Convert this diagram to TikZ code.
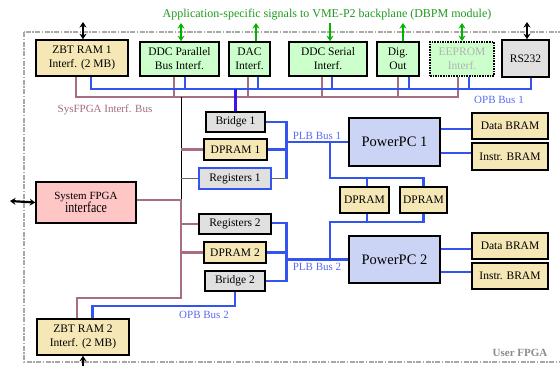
\documentclass[tikz,border=0pt]{standalone}
\usepackage{fontspec}
\setmainfont{Liberation Serif}
\usetikzlibrary{arrows.meta}
\definecolor{ylw}{HTML}{F6E8B6}
\definecolor{grn}{HTML}{CCFFCC}
\definecolor{gry}{HTML}{E0E0E0}
\definecolor{pnk}{HTML}{FFC6C6}
\definecolor{lav}{HTML}{CCD4F6}
\definecolor{busblue}{HTML}{3355EE}
\definecolor{maroon}{HTML}{A66E7E}
\definecolor{lblblue}{HTML}{5A6AF2}
\definecolor{lblmar}{HTML}{A26A7C}
\definecolor{grntxt}{HTML}{1E9A1E}
\definecolor{grnarr}{HTML}{00B400}
\definecolor{border}{HTML}{A8A8A8}
\newcommand{\fsz}[1]{\fontsize{#1}{#1}\selectfont}
\tikzset{
  box/.style={draw=black, line width=1.6pt, inner sep=0pt, align=center,
    font=\fsz{11.5}, execute at begin node=\setlength{\baselineskip}{14pt}},
  ybox/.style={box, fill=ylw},
  gbox/.style={box, fill=grn},
  graybox/.style={box, fill=gry},
  opb/.style={draw=busblue, line width=2.6pt},
  sys/.style={draw=maroon, line width=2.4pt},
  thinblk/.style={draw=black, line width=0.8pt},
  thingry/.style={draw=black!60, line width=1.2pt},
  barr/.style={draw=black, line width=2.2pt, {Stealth[length=5.5pt,width=7pt]}-{Stealth[length=5.5pt,width=7pt]}},
  garrd/.style={draw=grnarr, line width=2.2pt, {Stealth[length=5.5pt,width=7pt]}-{Stealth[length=5.5pt,width=7pt]}},
  garr/.style={draw=grnarr, line width=2.2pt, -{Stealth[length=5.5pt,width=7pt]}},
  lbl/.style={font=\fsz{11}, inner sep=0pt},
}
\begin{document}
\begin{tikzpicture}[x=1pt,y=-1pt]
\useasboundingbox (0,0) rectangle (560,365);
% outer border
\draw[border, line width=1.8pt, dash pattern=on 5pt off 1.5pt on 1.5pt off 1.5pt] (24,32) rectangle (600,362);
% title
\node[lbl, text=grntxt, font=\fsz{12}] (title) at (327,15) {Application-specific signals to VME-P2 backplane (DBPM module)};
% top row boxes
\node[ybox, minimum width=92pt, minimum height=36pt] (zbt1) at (82,58) {ZBT RAM 1\\Interf. (2 MB)};
\node[gbox, minimum width=79pt, minimum height=34pt] (ddcp) at (179.5,59) {DDC Parallel\\Bus Interf.};
\node[gbox, minimum width=41pt, minimum height=34pt] (dac) at (249.5,59) {DAC\\Interf.};
\node[gbox, minimum width=78pt, minimum height=34pt] (ddcs) at (328,59) {DDC Serial\\Interf.};
\node[gbox, minimum width=42pt, minimum height=34pt] (dig) at (398,59) {Dig.\\Out};
\node[gbox, densely dotted, line width=1.8pt, text=black!30, minimum width=64pt, minimum height=34pt] (eeprom) at (462,59) {EEPROM\\Interf.};
\node[graybox, minimum width=47pt, minimum height=37pt] (rs232) at (525.5,58.5) {RS232};
% middle column
\node[graybox, minimum width=59pt, minimum height=20pt] (bridge1) at (235.5,122) {Bridge 1};
\node[ybox, minimum width=63pt, minimum height=21pt] (dpram1) at (235.5,149.5) {DPRAM 1};
\node[graybox, draw=busblue, line width=2pt, minimum width=72pt, minimum height=21pt] (reg1) at (235,178.5) {Registers 1};
\node[graybox, minimum width=72pt, minimum height=20pt] (reg2) at (235,224) {Registers 2};
\node[ybox, minimum width=62pt, minimum height=21pt] (dpram2) at (235,252.5) {DPRAM 2};
\node[graybox, minimum width=60pt, minimum height=20pt] (bridge2) at (235,281) {Bridge 2};
% PowerPCs
\node[box, fill=lav, font=\fsz{14.5}, minimum width=91pt, minimum height=48pt] (ppc1) at (394.5,142) {PowerPC 1};
\node[box, fill=lav, font=\fsz{14.5}, minimum width=91pt, minimum height=47pt] (ppc2) at (394.5,259.5) {PowerPC 2};
\node[ybox, minimum width=76pt, minimum height=26pt] (dbram1) at (510,126) {Data BRAM};
\node[ybox, minimum width=76pt, minimum height=27pt] (ibram1) at (510,156.5) {Instr. BRAM};
\node[ybox, minimum width=76pt, minimum height=26pt] (dbram2) at (510,246) {Data BRAM};
\node[ybox, minimum width=76pt, minimum height=26pt] (ibram2) at (510,276) {Instr. BRAM};
\node[ybox, minimum width=49pt, minimum height=26pt] (mdp1) at (364.5,200) {DPRAM};
\node[ybox, minimum width=47pt, minimum height=26pt] (mdp2) at (423.5,200) {DPRAM};
% left boxes
\node[box, fill=pnk, minimum width=100pt, minimum height=41pt, font=\fsz{11}] (sysf) at (86,202.5) {System FPGA\\[-1pt]\scalebox{0.8}[1]{\fsz{15}interface}};
\node[ybox, minimum width=92pt, minimum height=36pt] (zbt2) at (83,337) {ZBT RAM 2\\Interf. (2 MB)};

% SysFPGA interface bus (upper)
\coordinate (sysL) at (76,97);
\coordinate (sysR) at (458,97);
\draw[sys] (zbt1.south -| sysL) -- (sysL) -- (sysR) -- (eeprom.south -| sysR);
\foreach \n/\x in {ddcp/174, dac/248, ddcs/322, dig/398}
  \draw[sys] (\n.south -| \x,0) -- (\x,97);
% black thin line down to system FPGA junction
\coordinate (sj) at (181,97);
\coordinate (sjm) at (181,200);
\draw[thinblk] (sj) -- (sjm);
\draw[thingry] (reg1.west) -- (reg1.west -| sj);
\draw[sys, line width=2.2pt] (dpram1.west) -- (dpram1.west -| sj);
% lower maroon bus
\coordinate (sjb) at (181,298);
\coordinate (sjz) at (77,298);
\draw[sys, line width=2.2pt] (sysf.east |- sjm) -- (sjm) -- (sjb) -- (sjz) -- (zbt2.north -| sjz);
\draw[sys, line width=2.2pt] (reg2.west) -- (reg2.west -| sj);
\draw[sys, line width=2.2pt] (dpram2.west) -- (dpram2.west -| sj);

% OPB bus 1
\coordinate (opbL) at (91,89);
\coordinate (opbR) at (531,89);
\draw[opb] (zbt1.south -| opbL) -- (opbL) -- (opbR) -- (rs232.south -| opbR);
\foreach \n/\x in {ddcp/185, dac/258, ddcs/332, dig/409, eeprom/469}
  \draw[opb] (\n.south -| \x,0) -- (\x,89);
\draw[opb, draw={rgb,255:red,60;green,20;blue,240}] (bridge1.north) -- (bridge1.north |- opbL);

% PLB bus 1
\coordinate (p1t) at (286.5,122);
\coordinate (p1b) at (286.5,178.5);
\draw[opb] (bridge1.east) -- (p1t) -- (p1b);
\draw[opb] (dpram1.east) -- (dpram1.east -| p1t);
\draw[thingry] (reg1.east) -- (p1b);
\draw[opb] (ppc1.west -| p1t) -- (ppc1.west);
% link between PPCs through DPRAMs
\coordinate (lk1) at (330,142);
\coordinate (lk2) at (330,178);
\coordinate (lk3) at (330,222);
\coordinate (lk4) at (330,258);
\draw[opb] (lk1) -- (lk2) -- (mdp2.north |- lk2) -- (mdp2.north);
\draw[opb] (mdp1.north -| 367,0) -- (367,178);
\draw[opb] (mdp1.south -| 367,0) -- (367,222);
\draw[opb] (mdp2.south) -- (mdp2.south |- lk3) -- (lk3) -- (lk4);

% PLB bus 2
\coordinate (p2t) at (286.5,223);
\coordinate (p2b) at (286.5,281);
\draw[opb] (reg2.east |- p2t) -- (p2t) -- (p2b) -- (bridge2.east);
\draw[opb] (dpram2.east) -- (dpram2.east -| p2t);
\draw[opb] (ppc2.west -| p2t) -- (ppc2.west);

% BRAM links
\draw[opb] (ppc1.east |- 0,129) -- (dbram1.west |- 0,129);
\draw[opb] (ppc1.east |- 0,153) -- (ibram1.west |- 0,153);
\draw[opb] (ppc2.east |- 0,249) -- (dbram2.west |- 0,249);
\draw[opb] (ppc2.east |- 0,272) -- (ibram2.west |- 0,272);

% OPB bus 2
\coordinate (o2a) at (235,306);
\coordinate (o2b) at (92.5,306);
\draw[opb] (bridge2.south) -- (o2a) -- (o2b) -- (zbt2.north -| o2b);

% arrows
\draw[barr] (zbt1.north -| 83,0) -- (83,22);
\draw[garrd] (ddcp.north -| 181,0) -- (181,23);
\draw[garr] (dac.north -| 256,0) -- (256,23);
\draw[garr] (330,23) -- (ddcs.north -| 330,0);
\draw[garr] (dig.north -| 403,0) -- (403,23);
\draw[garrd] (eeprom.north) -- (462,23);
\draw[barr] (rs232.north -| 527,0) -- (527,22);
\draw[barr] (sysf.west) -- (10,201);
\draw[barr] (zbt2.south) -- (83,372);

% labels
\node[lbl, text=lblmar] (lsys) at (105,110) {SysFPGA Interf. Bus};
\node[lbl, text=lblblue] (lopb1) at (499,100) {OPB Bus 1};
\node[lbl, text=lblblue] (lplb1) at (317,135.5) {PLB Bus 1};
\node[lbl, text=lblblue] (lplb2) at (317,267) {PLB Bus 2};
\node[lbl, text=lblblue] (lopb2) at (204,315) {OPB Bus 2};
\node[lbl, text=black!45, font=\fsz{11}\bfseries] (user) at (520,353) {User FPGA};
\end{tikzpicture}
\end{document}
